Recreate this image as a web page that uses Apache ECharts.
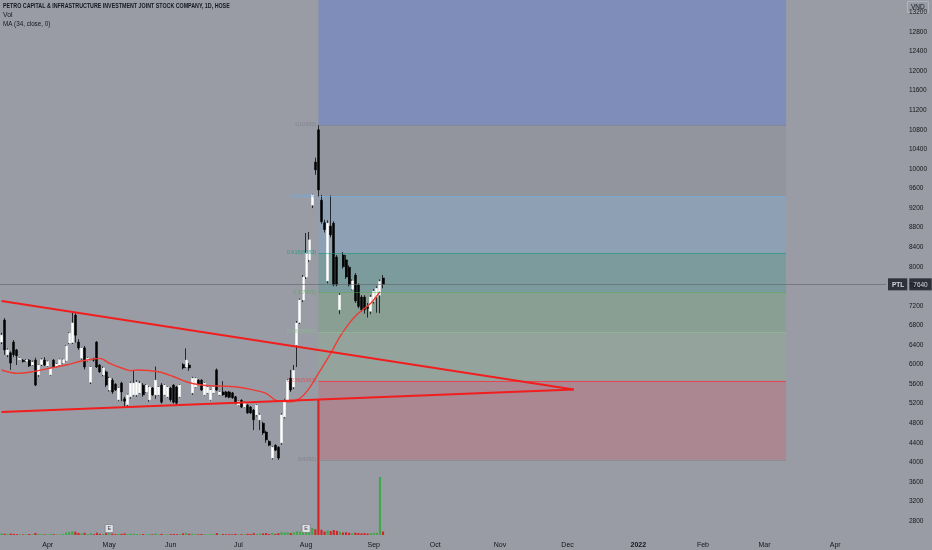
<!DOCTYPE html>
<html>
<head>
<meta charset="utf-8">
<script src="https://cdn.jsdelivr.net/npm/echarts/dist/echarts.min.js"></script>
<style>
html, body { margin: 0; padding: 0; background: #999ca4; }
#chart { width: 932px; height: 550px; }
</style>
</head>
<body>
<div id="chart"></div>
<script>
// trading days (weekdays minus exchange holidays)
const startDay = '2021-03-11';
const barCount = 288;
const holidays = ['2021-04-21', '2021-04-30', '2021-05-03', '2021-09-02', '2021-09-03'];
const monthNames = ['Jan', 'Feb', 'Mar', 'Apr', 'May', 'Jun', 'Jul', 'Aug', 'Sep', 'Oct', 'Nov', 'Dec'];

// [open, close, low, high]
const ohlc = [
  [6460, 6600, 6420, 6650], [6910, 6300, 6200, 6950], [6200, 6300, 6150, 6330], [6240, 6030, 5890, 6270],
  [6460, 6200, 6150, 6500], [6300, 6180, 5990, 6320], [6100, 6130, 6090, 6150], [6090, 6060, 6040, 6110],
  [6070, 6090, 6050, 6110], [6090, 5970, 5950, 6110], [5990, 6050, 5970, 6080], [6090, 5580, 5560, 6140],
  [5790, 5990, 5750, 6010], [6000, 6100, 5970, 6130], [6090, 5990, 5970, 6150], [5970, 6060, 5950, 6080],
  [5790, 5930, 5770, 5950], [6090, 5950, 5930, 6110], [5960, 6010, 5940, 6030], [5990, 6100, 5970, 6120],
  [6030, 6100, 6010, 6120], [6080, 6380, 6060, 6400], [6440, 6640, 6420, 6660], [6450, 6850, 6420, 7070],
  [7010, 6600, 6450, 7050], [6460, 6340, 6300, 6520], [6130, 6340, 6100, 6360], [6340, 5950, 5900, 6380],
  [6080, 6130, 6060, 6150], [5640, 5950, 5600, 5970], [6110, 6090, 6060, 6140], [6460, 5950, 5930, 6480],
  [5990, 5850, 5830, 6010], [5790, 5930, 5760, 5960], [5850, 5580, 5540, 5880], [5480, 5720, 5450, 5750],
  [5680, 5440, 5400, 5720], [5600, 5480, 5460, 5620], [5280, 5520, 5250, 5540], [5620, 5440, 5250, 5650],
  [5300, 5250, 5130, 5340], [5180, 5380, 5130, 5400], [5340, 5620, 5300, 5650], [5380, 5620, 5350, 5890],
  [5380, 5640, 5340, 5680], [5420, 5620, 5400, 5660], [5580, 5380, 5340, 5620], [5440, 5580, 5420, 5600],
  [5280, 5540, 5240, 5560], [5520, 5380, 5360, 5540], [5380, 5680, 5300, 5960], [5380, 5540, 5360, 5560],
  [5580, 5230, 5200, 5620], [5380, 5580, 5360, 5600], [5340, 5540, 5320, 5560], [5520, 5280, 5240, 5540],
  [5580, 5230, 5200, 5600], [5540, 5210, 5180, 5560], [5340, 5580, 5320, 5600], [6000, 5930, 5900, 6030],
  [5950, 6090, 5930, 6330], [5990, 5930, 5870, 6030], [5420, 5720, 5380, 5750], [5540, 5720, 5520, 5740],
  [5680, 5600, 5580, 5700], [5680, 5480, 5460, 5700], [5380, 5620, 5360, 5640], [5420, 5540, 5400, 5560],
  [5280, 5480, 5260, 5500], [5420, 5540, 5400, 5560], [5890, 5480, 5460, 5920], [5380, 5440, 5360, 5460],
  [5440, 5380, 5360, 5660], [5440, 5340, 5320, 5460], [5440, 5330, 5310, 5460], [5420, 5320, 5300, 5440],
  [5340, 5210, 5190, 5360], [5170, 5250, 5150, 5270], [5270, 5130, 5110, 5290], [5130, 5230, 5110, 5250],
  [5170, 5010, 4990, 5190], [5130, 5010, 4990, 5150], [5070, 4870, 4660, 5090], [4970, 5170, 4940, 5190],
  [4870, 4970, 4660, 5000], [4800, 4600, 4560, 4830], [4620, 4460, 4400, 4650], [4430, 4350, 4330, 4450],
  [4090, 4310, 4060, 4330], [4350, 4250, 4230, 4370], [4310, 4090, 4050, 4330], [4400, 4970, 4360, 5000],
  [4930, 5270, 4900, 5300], [5270, 5680, 5250, 5700], [5720, 5480, 5440, 5890], [5540, 5880, 5500, 5990],
  [6400, 6850, 5950, 6890], [6860, 7320, 6830, 7350], [7320, 7790, 7280, 7830], [7790, 8280, 7750, 8690],
  [8140, 8550, 8100, 8710], [9260, 9470, 9200, 9490], [10140, 9980, 9880, 10230], [10800, 9570, 9430, 10900],
  [9360, 8920, 8880, 9470], [8900, 8760, 8700, 8960], [7710, 8890, 7660, 8950], [8830, 8650, 8600, 9460],
  [8890, 7630, 7600, 8930], [8200, 7630, 7600, 8240], [7120, 7420, 7030, 7460], [8240, 8000, 7960, 8300],
  [8140, 7790, 7750, 8240], [7990, 7630, 7600, 8030], [7540, 7710, 7520, 7740], [7830, 7300, 7260, 7870],
  [7630, 7190, 7150, 7660], [7380, 7120, 7080, 7420], [7380, 7120, 7040, 7420], [7180, 7150, 6960, 7260],
  [7090, 7380, 7030, 7420], [7290, 7500, 7250, 7540], [7380, 7560, 7060, 7600], [7420, 7700, 7050, 7740],
  [7770, 7640, 7560, 7830]
];

const volumes = [
  120000, 90000, 70000, 110000, 80000, 60000, 50000, 40000, 45000, 70000, 55000,
  150000, 80000, 60000, 50000, 45000, 90000, 60000, 40000, 50000, 60000,
  180000, 220000, 260000, 240000, 150000, 120000, 160000, 70000, 140000, 60000,
  170000, 90000, 80000, 130000, 110000, 100000, 60000, 90000, 80000, 120000,
  70000, 90000, 100000, 60000, 50000, 70000, 40000, 60000, 50000, 110000,
  50000, 80000, 40000, 50000, 60000, 70000, 60000, 50000, 120000, 160000,
  90000, 100000, 60000, 50000, 70000, 50000, 40000, 60000, 50000, 140000,
  40000, 70000, 50000, 60000, 50000, 80000, 40000, 60000, 50000, 90000,
  70000, 130000, 80000, 110000, 120000, 140000, 70000, 150000, 80000, 130000,
  220000, 180000, 200000, 150000, 190000, 260000, 240000, 280000, 300000, 260000,
  520000, 420000, 9800000, 380000, 250000, 330000, 280000, 360000, 300000, 240000,
  180000, 200000, 160000, 130000, 170000, 150000, 120000, 140000, 110000, 130000,
  150000, 160000, 4200000, 250000
];

// MA(34): [bar index, value]
const maPoints = [
  [0, 5888], [5, 5820], [10, 5853], [16, 5929], [21, 5990], [26, 6072], [30, 6113], [32, 6127],
  [35, 6031], [39, 5929], [42, 5874], [44, 5888], [51, 5853], [56, 5751], [60, 5649], [65, 5581],
  [70, 5561], [76, 5546], [81, 5493], [86, 5411], [89, 5274], [94, 5240], [97, 5309], [100, 5514],
  [103, 5820], [107, 6229], [110, 6569], [113, 6843], [116, 7047], [120, 7252], [123, 7489]
];

// fib retracement
const fibLow = 4050;
const fibHigh = 10900;
const fibStartBar = 103;
const fibEndBar = 255;
const fibLevels = [0, 0.236, 0.382, 0.5, 0.618, 0.786, 1, 1.618];
const fibColors = ['#787b86', '#f23645', '#81c784', '#4caf50', '#089981', '#64b5f6', '#787b86', '#2962ff'];
const fibAlpha = [0.2, 0.2, 0.2, 0.2, 0.2, 0.2, 0.2, 0.24];

// triangle: [startBar, startPrice, endBar, endPrice]
const triangle = [
  [0, 7300, 186, 5489],
  [0, 5029, 186, 5489]
];
const earningsBars = [35, 99];
const lastPrice = 7640;

const yMin = 2400, yMax = 13454, yStep = 400, volMax = 17000000;

// build trading day categories
const dates = [];
(function () {
  let d = new Date(startDay + 'T00:00:00Z');
  while (dates.length < barCount) {
    const s = d.toISOString().slice(0, 10);
    const wd = d.getUTCDay();
    if (wd !== 0 && wd !== 6 && holidays.indexOf(s) < 0) dates.push(s);
    d.setUTCDate(d.getUTCDate() + 1);
  }
})();

function rgba(hex, a) {
  const n = parseInt(hex.slice(1), 16);
  return 'rgba(' + (n >> 16) + ',' + ((n >> 8) & 255) + ',' + (n & 255) + ',' + a + ')';
}
const fibPrice = l => fibLow + (fibHigh - fibLow) * l;

const zones = [];
for (let k = 1; k < fibLevels.length; k++) {
  zones.push([
    { xAxis: dates[fibStartBar], yAxis: fibPrice(fibLevels[k - 1]), itemStyle: { color: rgba(fibColors[k], fibAlpha[k]) } },
    { xAxis: dates[fibEndBar], yAxis: Math.min(fibPrice(fibLevels[k]), yMax) }
  ]);
}
const fibLines = [];
for (let k = 0; k < fibLevels.length - 1; k++) {
  const p = fibPrice(fibLevels[k]);
  fibLines.push([
    {
      coord: [dates[fibStartBar], p],
      lineStyle: { color: rgba(fibColors[k], k === 1 ? 0.8 : 0.5), width: 1, type: 'solid' },
      label: {
        show: true, position: 'start', distance: 2, fontSize: 5.5,
        color: rgba(fibColors[k], 0.7),
        formatter: fibLevels[k] + '(' + Math.round(p) + ')'
      }
    },
    { coord: [dates[fibEndBar], p] }
  ]);
}

const triLines = triangle.map(t => [
  { coord: [dates[t[0]], t[1]], lineStyle: { color: '#f21d1d', width: 2, type: 'solid' }, label: { show: false } },
  { coord: [dates[t[2]], t[3]] }
]);

const closes = ohlc.map(d => d[1]);
const wickColor = '#26272c';
const textColor = '#15161a';

const chart = echarts.init(document.getElementById('chart'));
chart.setOption({
  backgroundColor: '#999ca4',
  animation: false,
  grid: [
    { left: 0, right: 46, top: 0, bottom: 9.4 },
    { left: 0, right: 46, top: 300, bottom: 15 }
  ],
  xAxis: [
    {
      type: 'category', data: dates, gridIndex: 0, boundaryGap: true,
      axisLine: { show: false }, axisTick: { show: false }, splitLine: { show: false },
      axisLabel: {
        fontSize: 7, color: textColor, margin: 1,
        fontFamily: 'Liberation Sans, Arial, sans-serif',
        interval: function (idx, val) {
          if (idx === 0) return false;
          return val.slice(0, 7) !== dates[idx - 1].slice(0, 7);
        },
        formatter: function (val) {
          const m = +val.slice(5, 7);
          if (m === 1) return '{y|' + val.slice(0, 4) + '}';
          return monthNames[m - 1];
        },
        rich: { y: { fontSize: 7, fontWeight: 'bold', color: textColor } }
      }
    },
    { type: 'category', data: dates, gridIndex: 1, show: false, boundaryGap: true }
  ],
  yAxis: [
    {
      type: 'value', position: 'right', min: yMin, max: yMax, interval: yStep, gridIndex: 0,
      axisLine: { show: false }, axisTick: { show: false }, splitLine: { show: false },
      axisLabel: {
        fontSize: 6.5, color: textColor, margin: 23,
        fontFamily: 'Liberation Sans, Arial, sans-serif',
        formatter: v => (v < 2800 || v % yStep !== 0 ? '' : String(v))
      }
    },
    { type: 'value', gridIndex: 1, min: 0, max: volMax, show: false }
  ],
  series: [
    {
      name: 'fib', type: 'line', data: closes, symbol: 'none', silent: true, z: 1,
      lineStyle: { opacity: 0 },
      markArea: { silent: true, data: zones },
      markLine: { silent: true, symbol: 'none', data: fibLines }
    },
    {
      name: 'wick', type: 'candlestick', data: ohlc, barWidth: 1, z: 2, silent: true,
      itemStyle: { color: wickColor, color0: wickColor, borderColor: wickColor, borderColor0: wickColor, borderWidth: 1 }
    },
    {
      name: 'body', type: 'candlestick', z: 3, barWidth: 2.5, silent: true,
      data: ohlc.map(d => [d[0], d[1], Math.min(d[0], d[1]), Math.max(d[0], d[1])]),
      itemStyle: { color: '#ffffff', color0: '#000000', borderColor: '#ffffff', borderColor0: '#000000', borderWidth: 0.5 }
    },
    {
      name: 'MA', type: 'line', z: 4, symbol: 'none', smooth: 0.3, silent: true,
      data: maPoints.map(p => [dates[p[0]], p[1]]),
      lineStyle: { color: '#ee3b33', width: 1.4 }
    },
    {
      name: 'drawings', type: 'line', data: closes, symbol: 'none', silent: true, z: 5,
      lineStyle: { opacity: 0 },
      markLine: {
        silent: true, symbol: 'none',
        data: triLines.concat([{
          yAxis: lastPrice,
          lineStyle: { color: '#62656d', width: 0.8, type: 'solid', opacity: 0.8 },
          label: {
            show: true, position: 'end', distance: 2,
            formatter: '{a|PTL}{g|}{b|' + lastPrice + '}',
            rich: {
              a: { backgroundColor: '#131722', color: '#ffffff', fontSize: 6.5, fontWeight: 'bold', padding: [3, 3, 2, 4] },
              g: { width: 2 },
              b: { backgroundColor: '#131722', color: '#ffffff', fontSize: 6.5, padding: [3, 4, 2, 4] }
            }
          }
        }])
      }
    },
    {
      name: 'Vol', type: 'bar', xAxisIndex: 1, yAxisIndex: 1, barWidth: '70%', silent: true,
      data: volumes.map((v, i) => ({
        value: v,
        itemStyle: { color: ohlc[i][1] >= ohlc[i][0] ? '#3fa84a' : '#d42525' }
      }))
    },
    {
      name: 'E', type: 'scatter', xAxisIndex: 1, yAxisIndex: 1, symbol: 'rect', symbolSize: [8, 8], silent: true, z: 6,
      data: earningsBars.map(i => [dates[i], 470000]),
      itemStyle: { color: '#f2f3f5', borderColor: '#5d606b', borderWidth: 0.6 },
      label: { show: true, position: 'inside', formatter: 'E', fontSize: 5.5, color: '#131722' }
    }
  ],
  graphic: [
    { type: 'text', left: 3, top: 3, scaleX: 0.76, style: { text: 'PETRO CAPITAL & INFRASTRUCTURE INVESTMENT JOINT STOCK COMPANY, 1D, HOSE', font: 'bold 7px "Liberation Sans", sans-serif', fill: '#131722' } },
    { type: 'text', left: 3, top: 12, style: { text: 'Vol', font: '6.8px "Liberation Sans", sans-serif', fill: '#131722' } },
    { type: 'text', left: 3, top: 21, scaleX: 0.92, style: { text: 'MA (34, close, 0)', font: '6.8px "Liberation Sans", sans-serif', fill: '#131722' } },
    { type: 'rect', left: 907, top: 1, shape: { width: 21, height: 11 }, style: { fill: '#999ca4', stroke: '#b9bbc2', lineWidth: 0.8 } },
    { type: 'text', left: 911, top: 3.5, style: { text: 'VND', font: '6.5px "Liberation Sans", sans-serif', fill: '#131722' } }
  ]
});
</script>
</body>
</html>
